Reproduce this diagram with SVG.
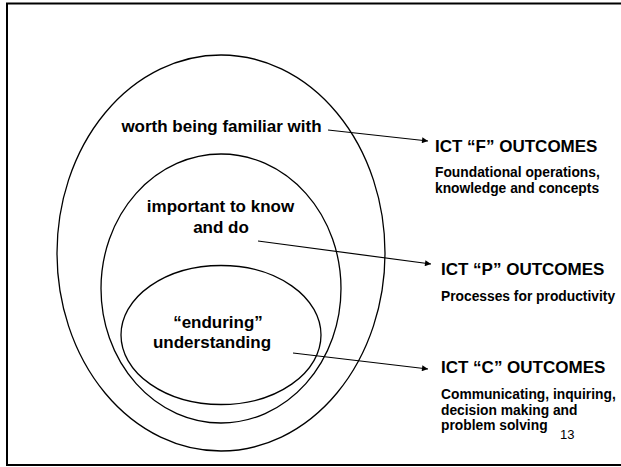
<svg xmlns="http://www.w3.org/2000/svg" width="621" height="467" viewBox="0 0 621 467">
<style>
.ring{fill:none;stroke:#000;stroke-width:1.3}
.con{stroke:#000;stroke-width:1.2;fill:none;marker-end:url(#ah)}
.lbl{font-family:"Liberation Sans",Arial,sans-serif;font-weight:bold;font-size:17px;fill:#000;text-anchor:middle}
.ttl{font-family:"Liberation Sans",Arial,sans-serif;font-weight:bold;font-size:17px;fill:#000}
.sub{font-family:"Liberation Sans",Arial,sans-serif;font-weight:bold;font-size:13.8px;fill:#000}
.num{font-family:"Liberation Sans",Arial,sans-serif;font-size:13px;fill:#000}
</style>
<defs>
<marker id="ah" viewBox="0 0 10 10" refX="10" refY="5" markerWidth="7" markerHeight="6" markerUnits="userSpaceOnUse" orient="auto">
<path d="M0,0 L10,5 L0,10 z" fill="#000"/>
</marker>
</defs>
<rect width="621" height="467" fill="#fff"/>
<rect x="7" y="3.5" width="630" height="461.5" fill="none" stroke="#000" stroke-width="2"/>
<g id="outer">
<ellipse class="ring" cx="221" cy="253" rx="164" ry="198"/>
<text class="lbl" x="221.5" y="132">worth being familiar with</text>
</g>
<g id="middle">
<ellipse class="ring" cx="221" cy="288.5" rx="120" ry="134.5"/>
<text class="lbl" x="220.5" y="212">important to know</text>
<text class="lbl" x="221" y="233">and do</text>
</g>
<g id="inner">
<ellipse class="ring" cx="221" cy="335" rx="100" ry="69.5"/>
<text class="lbl" x="218" y="328">“enduring”</text>
<text class="lbl" x="212" y="348">understanding</text>
</g>
<g id="connectors">
<line class="con" x1="328" y1="130" x2="428" y2="141"/>
<line class="con" x1="258" y1="241" x2="431" y2="264"/>
<line class="con" x1="293" y1="353" x2="428" y2="369"/>
</g>
<g id="f-outcomes">
<text class="ttl" x="435" y="152">ICT “F” OUTCOMES</text>
<text class="sub" x="435" y="177">Foundational operations,</text>
<text class="sub" x="435" y="193">knowledge and concepts</text>
</g>
<g id="p-outcomes">
<text class="ttl" x="441" y="275">ICT “P” OUTCOMES</text>
<text class="sub" x="441" y="301">Processes for productivity</text>
</g>
<g id="c-outcomes">
<text class="ttl" x="441" y="373">ICT “C” OUTCOMES</text>
<text class="sub" x="441" y="399">Communicating, inquiring,</text>
<text class="sub" x="441" y="414.5">decision making and</text>
<text class="sub" x="441" y="430">problem solving</text>
</g>
<text class="num" x="560" y="439">13</text>
</svg>
